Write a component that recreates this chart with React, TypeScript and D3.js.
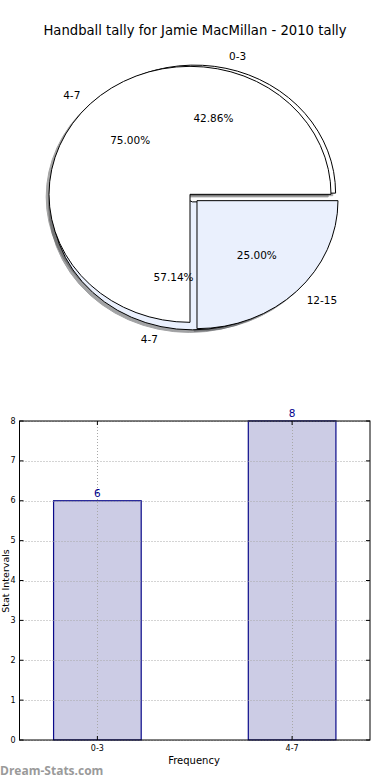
import { useEffect, useRef } from "react";
import * as d3 from "d3";

// pie data (two pies overlaid on the same axes)
const pieALabels: string[] = ["0-3", "4-7"];
const pieAValues: number[] = [6, 8];
const pieBLabels: string[] = ["4-7", "12-15"];
const pieBValues: number[] = [3, 1];

// bar data
const barCategories: string[] = ["0-3", "4-7"];
const barValues: number[] = [6, 8];
const yTicks: number[] = [0, 1, 2, 3, 4, 5, 6, 7, 8];

const titleText = "Handball tally for Jamie MacMillan - 2010 tally";

export default function App() {
  const svgRef = useRef<SVGSVGElement | null>(null);

  useEffect(() => {
    const width = 390;
    const height = 780;
    const font = "'DejaVu Sans', sans-serif";

    const svg = d3
      .select(svgRef.current)
      .attr("width", width)
      .attr("height", height);

    svg.selectAll("*").remove();

    svg
      .append("rect")
      .attr("width", width)
      .attr("height", height)
      .attr("fill", "#fff");

    svg
      .append("text")
      .attr("x", 195)
      .attr("y", 30)
      .attr("text-anchor", "middle")
      .attr("dominant-baseline", "central")
      .attr("font-family", font)
      .attr("font-size", 13.2)
      .text(titleText);

    // ---------- pies ----------
    const cx = 193.5;
    const cy = 197.5;
    const rx = 141;
    const ry = 128;
    const explode = 0.035;
    const fills = ["#ffffff", "#eaf0fd"];
    const shadowFills = ["rgb(77,77,77)", "rgb(70,72,76)"];

    // matplotlib style: start at 3 o'clock, counter-clockwise
    const pie = d3
      .pie<number>()
      .sort(null)
      .startAngle(Math.PI / 2)
      .endAngle(Math.PI / 2 - 2 * Math.PI);
    const arc = d3.arc<d3.PieArcDatum<number>>().innerRadius(0).outerRadius(1);

    const pies = [
      { labels: pieALabels, values: pieAValues },
      { labels: pieBLabels, values: pieBValues },
    ];

    const built = pies.map((p) => {
      const total = d3.sum(p.values);
      return pie(p.values).map((d, i) => {
        const mid = (d.startAngle + d.endAngle) / 2;
        const ux = Math.sin(mid);
        const uy = -Math.cos(mid);
        const ax = cx + explode * rx * ux;
        const ay = cy + explode * ry * uy;
        return { d, i, ux, uy, ax, ay, label: p.labels[i], pct: (p.values[i] / total) * 100 };
      });
    });

    const gPie = svg.append("g");

    // shadows under everything
    built.forEach((wedges) => {
      wedges.forEach((w) => {
        gPie
          .append("path")
          .attr("d", arc(w.d) as string)
          .attr("transform", `translate(${w.ax - 0.02 * rx},${w.ay + 0.02 * ry}) scale(${rx},${ry})`)
          .attr("fill", shadowFills[w.i])
          .attr("stroke", shadowFills[w.i])
          .attr("stroke-width", 1)
          .attr("vector-effect", "non-scaling-stroke")
          .attr("opacity", 0.5);
      });
    });

    built.forEach((wedges) => {
      wedges.forEach((w) => {
        gPie
          .append("path")
          .attr("d", arc(w.d) as string)
          .attr("transform", `translate(${w.ax},${w.ay}) scale(${rx},${ry})`)
          .attr("fill", fills[w.i])
          .attr("stroke", "#000")
          .attr("stroke-width", 1)
          .attr("stroke-linejoin", "round")
          .attr("vector-effect", "non-scaling-stroke");
      });
    });

    built.forEach((wedges) => {
      wedges.forEach((w) => {
        gPie
          .append("text")
          .attr("x", w.ax + 1.1 * rx * w.ux)
          .attr("y", w.ay + 1.1 * ry * w.uy)
          .attr("text-anchor", w.ux > 0 ? "start" : "end")
          .attr("dominant-baseline", "central")
          .attr("font-family", font)
          .attr("font-size", 10.5)
          .text(w.label);
        gPie
          .append("text")
          .attr("x", w.ax + 0.6 * rx * w.ux)
          .attr("y", w.ay + 0.6 * ry * w.uy)
          .attr("text-anchor", "middle")
          .attr("dominant-baseline", "central")
          .attr("font-family", font)
          .attr("font-size", 10.5)
          .text(`${w.pct.toFixed(2)}%`);
      });
    });

    // ---------- bars ----------
    const plot = { left: 19.5, right: 370, top: 421, bottom: 740 };
    const barWidth = 0.45;

    const xScale = d3
      .scaleLinear()
      .domain([-0.4, 1.4])
      .range([plot.left, plot.right]);
    const yScale = d3
      .scaleLinear()
      .domain([0, 8])
      .range([plot.bottom, plot.top]);

    const gBar = svg.append("g");

    gBar
      .selectAll("rect.bar")
      .data(barValues)
      .join("rect")
      .attr("class", "bar")
      .attr("x", (_, i) => xScale(i - barWidth / 2))
      .attr("y", (d) => yScale(d))
      .attr("width", xScale(barWidth) - xScale(0))
      .attr("height", (d) => yScale(0) - yScale(d))
      .attr("fill", "#ccccE5")
      .attr("stroke", "#0a0a8a")
      .attr("stroke-width", 1.2);

    // dotted grid on top
    gBar
      .selectAll("line.ygrid")
      .data(yTicks)
      .join("line")
      .attr("class", "ygrid")
      .attr("x1", plot.left)
      .attr("x2", plot.right)
      .attr("y1", (d) => Math.round(yScale(d)) + 0.5)
      .attr("y2", (d) => Math.round(yScale(d)) + 0.5)
      .attr("stroke", "#a8a8a8")
      .attr("stroke-dasharray", "1,2");

    gBar
      .selectAll("line.xgrid")
      .data(barCategories)
      .join("line")
      .attr("class", "xgrid")
      .attr("x1", (_, i) => Math.round(xScale(i)) + 0.5)
      .attr("x2", (_, i) => Math.round(xScale(i)) + 0.5)
      .attr("y1", plot.top)
      .attr("y2", plot.bottom)
      .attr("stroke", "#a8a8a8")
      .attr("stroke-dasharray", "1,2");

    // frame
    gBar
      .append("rect")
      .attr("x", plot.left)
      .attr("y", plot.top)
      .attr("width", plot.right - plot.left)
      .attr("height", plot.bottom - plot.top)
      .attr("fill", "none")
      .attr("stroke", "#000")
      .attr("stroke-width", 1);

    // inward ticks on all sides
    yTicks.forEach((t) => {
      const y = yScale(t);
      gBar.append("line").attr("x1", plot.left).attr("x2", plot.left + 4).attr("y1", y).attr("y2", y).attr("stroke", "#000");
      gBar.append("line").attr("x1", plot.right - 4).attr("x2", plot.right).attr("y1", y).attr("y2", y).attr("stroke", "#000");
      gBar
        .append("text")
        .attr("x", plot.left - 4)
        .attr("y", y)
        .attr("text-anchor", "end")
        .attr("dominant-baseline", "central")
        .attr("font-family", font)
        .attr("font-size", 8)
        .text(String(t));
    });
    barCategories.forEach((c, i) => {
      const x = xScale(i);
      gBar.append("line").attr("x1", x).attr("x2", x).attr("y1", plot.bottom).attr("y2", plot.bottom - 4).attr("stroke", "#000");
      gBar.append("line").attr("x1", x).attr("x2", x).attr("y1", plot.top).attr("y2", plot.top + 4).attr("stroke", "#000");
      gBar
        .append("text")
        .attr("x", x)
        .attr("y", plot.bottom + 8)
        .attr("text-anchor", "middle")
        .attr("dominant-baseline", "central")
        .attr("font-family", font)
        .attr("font-size", 8)
        .text(c);
    });

    // value labels
    gBar
      .selectAll("text.val")
      .data(barValues)
      .join("text")
      .attr("class", "val")
      .attr("x", (_, i) => xScale(i))
      .attr("y", (d) => yScale(d) - 4)
      .attr("text-anchor", "middle")
      .attr("font-family", font)
      .attr("font-size", 10.5)
      .attr("fill", "#00008b")
      .text((d) => String(d));

    gBar
      .append("text")
      .attr("x", 194)
      .attr("y", 760)
      .attr("text-anchor", "middle")
      .attr("dominant-baseline", "central")
      .attr("font-family", font)
      .attr("font-size", 10)
      .text("Frequency");

    gBar
      .append("text")
      .attr("transform", "translate(5,581) rotate(-90)")
      .attr("text-anchor", "middle")
      .attr("dominant-baseline", "central")
      .attr("font-family", font)
      .attr("font-size", 9.5)
      .text("Stat Intervals");

    svg
      .append("text")
      .attr("x", 0)
      .attr("y", 775)
      .attr("font-family", "'Open Sans', sans-serif")
      .attr("font-weight", "bold")
      .attr("font-size", 12)
      .attr("fill", "#9a9a9a")
      .text("Dream-Stats.com");
  }, []);

  return (
    <div>
      <svg ref={svgRef} style={{ position: "absolute", left: 0, top: 0 }}></svg>
    </div>
  );
}
